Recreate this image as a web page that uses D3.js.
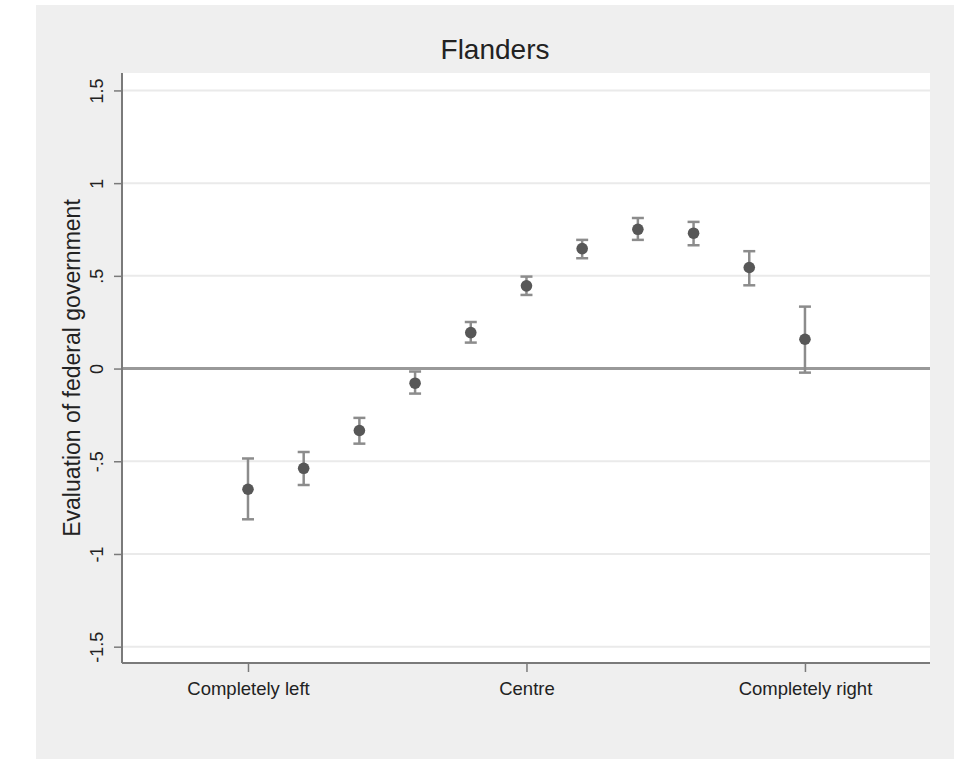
<!DOCTYPE html>
<html>
<head>
<meta charset="utf-8">
<script src="https://cdn.jsdelivr.net/npm/d3@7"></script>
<style>
  html, body { margin: 0; padding: 0; background: #ffffff; }
  svg { display: block; }
  text { font-family: "Liberation Sans", Arial, Helvetica, sans-serif; fill: #222222; }
</style>
</head>
<body>
<div id="chart"></div>
<script>
// ---- data ----
const positions = [0, 1, 2, 3, 4, 5, 6, 7, 8, 9, 10];
const estimates = [-0.651, -0.538, -0.334, -0.079, 0.194, 0.446, 0.647, 0.751, 0.730, 0.545, 0.158];
const lowerCI   = [-0.813, -0.628, -0.405, -0.135, 0.140, 0.397, 0.595, 0.694, 0.665, 0.449, -0.022];
const upperCI   = [-0.485, -0.450, -0.266, -0.016, 0.251, 0.496, 0.694, 0.812, 0.791, 0.633, 0.334];
const xTickValues = [0, 5, 10];
const xTickLabels = ["Completely left", "Centre", "Completely right"];
const yTickValues = [-1.5, -1, -0.5, 0, 0.5, 1, 1.5];
const yTickLabels = ["-1.5", "-1", "-.5", "0", ".5", "1", "1.5"];
const titleText = "Flanders";
const yTitleText = "Evaluation of federal government";

// ---- layout ----
const W = 956, H = 759;
const plot = { left: 122, right: 930, top: 73, bottom: 663 };

const svg = d3.select("#chart").append("svg")
  .attr("width", W).attr("height", H);

// outer graph region (gray)
svg.append("rect").attr("x", 36).attr("y", 5)
  .attr("width", 918).attr("height", H - 5)
  .attr("fill", "#efefef");

// plot region
svg.append("rect").attr("x", plot.left).attr("y", plot.top)
  .attr("width", plot.right - plot.left).attr("height", plot.bottom - plot.top)
  .attr("fill", "#ffffff");

const x = d3.scaleLinear().domain([-2.262, 12.245]).range([plot.left, plot.right]);
const y = d3.scaleLinear().domain([-1.588, 1.594]).range([plot.bottom, plot.top]);

// grid lines
svg.append("g").selectAll("line").data(yTickValues.filter(v => v !== 0)).join("line")
  .attr("x1", plot.left).attr("x2", plot.right)
  .attr("y1", d => y(d)).attr("y2", d => y(d))
  .attr("stroke", "#eaeaea").attr("stroke-width", 2);

// zero reference line
svg.append("line")
  .attr("x1", plot.left).attr("x2", plot.right)
  .attr("y1", y(0)).attr("y2", y(0))
  .attr("stroke", "#999999").attr("stroke-width", 3);

// y axis
const yAxis = d3.axisLeft(y).tickValues(yTickValues).tickSize(8)
  .tickFormat((d, i) => yTickLabels[i]);
const gy = svg.append("g").attr("transform", `translate(${plot.left},0)`).call(yAxis);
gy.select(".domain").attr("stroke", "#7a7a7a").attr("stroke-width", 2)
  .attr("d", `M0,${plot.top}V${plot.bottom}`);
gy.selectAll(".tick line").attr("stroke", "#7a7a7a").attr("stroke-width", 1.5);
gy.selectAll(".tick text")
  .attr("x", null).attr("dy", null)
  .attr("transform", "translate(-19,0) rotate(-90)")
  .attr("text-anchor", "middle")
  .attr("font-size", 18)
  .attr("fill", "#222222");

// x axis
const xAxis = d3.axisBottom(x).tickValues(xTickValues).tickSize(9)
  .tickFormat((d, i) => xTickLabels[i]);
const gx = svg.append("g").attr("transform", `translate(0,${plot.bottom})`).call(xAxis);
gx.select(".domain").attr("stroke", "#7a7a7a").attr("stroke-width", 2)
  .attr("d", `M${plot.left},0H${plot.right}`);
gx.selectAll(".tick line").attr("stroke", "#7a7a7a").attr("stroke-width", 1.5);
gx.selectAll(".tick text")
  .attr("y", 32).attr("dy", null)
  .attr("font-size", 18.5)
  .attr("fill", "#222222");

// error bars
const data = positions.map((p, i) => ({ p, est: estimates[i], lo: lowerCI[i], hi: upperCI[i] }));
const eb = svg.append("g").attr("stroke", "#8c8c8c").attr("stroke-width", 2.5).attr("fill", "none");
eb.selectAll("line.v").data(data).join("line").attr("class", "v")
  .attr("x1", d => x(d.p)).attr("x2", d => x(d.p))
  .attr("y1", d => y(d.lo)).attr("y2", d => y(d.hi));
eb.selectAll("line.t").data(data).join("line").attr("class", "t")
  .attr("x1", d => x(d.p) - 6).attr("x2", d => x(d.p) + 6)
  .attr("y1", d => y(d.hi)).attr("y2", d => y(d.hi));
eb.selectAll("line.b").data(data).join("line").attr("class", "b")
  .attr("x1", d => x(d.p) - 6).attr("x2", d => x(d.p) + 6)
  .attr("y1", d => y(d.lo)).attr("y2", d => y(d.lo));

// points
svg.append("g").selectAll("circle").data(data).join("circle")
  .attr("cx", d => x(d.p)).attr("cy", d => y(d.est))
  .attr("r", 5.8).attr("fill", "#575757");

// title
svg.append("text").attr("x", 495).attr("y", 59)
  .attr("text-anchor", "middle").attr("font-size", 28)
  .text(titleText);

// y axis title
svg.append("text")
  .attr("transform", `translate(80,368) rotate(-90)`)
  .attr("text-anchor", "middle").attr("font-size", 23)
  .text(yTitleText);
</script>
</body>
</html>
